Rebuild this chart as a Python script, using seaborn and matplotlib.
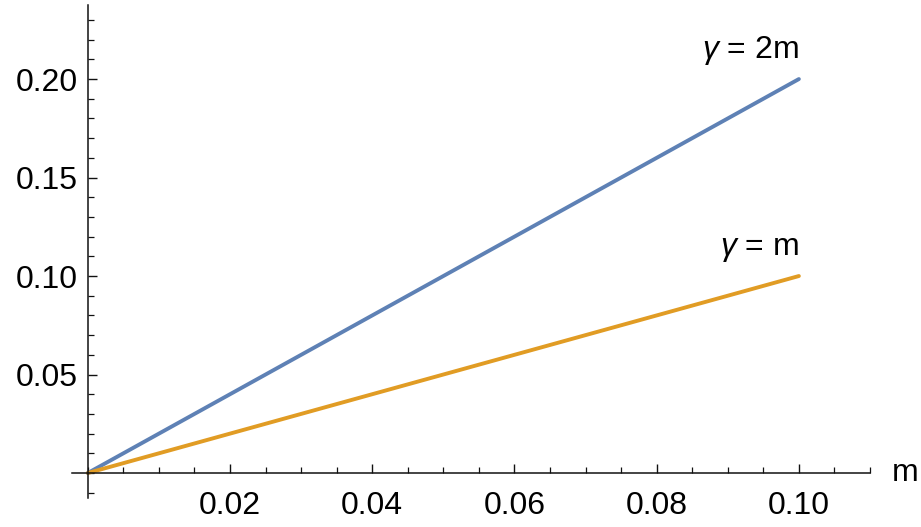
import numpy as np
import pandas as pd
import matplotlib
matplotlib.use("Agg")
import matplotlib.pyplot as plt
import seaborn as sns
from matplotlib.ticker import MultipleLocator, FixedLocator

# data
m_vals = [0.0, 0.1]
gamma_2m = [0.0, 0.2]
gamma_m = [0.0, 0.1]
x_ticks = [0.02, 0.04, 0.06, 0.08, 0.10]
y_ticks = [0.05, 0.10, 0.15, 0.20]

sns.set_style("white")
plt.rcParams['font.family'] = ['Liberation Sans', 'DejaVu Sans']
plt.rcParams['mathtext.fontset'] = 'custom'
plt.rcParams['mathtext.it'] = 'Liberation Sans:italic'
plt.rcParams['mathtext.rm'] = 'Liberation Sans'

df = pd.DataFrame({
    "m": m_vals * 2,
    "value": gamma_2m + gamma_m,
    "curve": ["2m"] * 2 + ["m"] * 2,
})

fig = plt.figure(figsize=(9.21, 5.27), dpi=100)
ax = fig.add_axes([0.078, 0.055, 0.8666, 0.9355])

sns.lineplot(data=df, x="m", y="value", hue="curve",
             palette=["#5E81B5", "#E19C24"], linewidth=2.8,
             legend=False, ax=ax)

ax.set_xlim(-0.00225, 0.110)
ax.set_ylim(-0.0127, 0.2376)

# Mathematica style axes through the origin
for s in ["top", "right"]:
    ax.spines[s].set_visible(False)
ax.spines["left"].set_position(("data", 0))
ax.spines["bottom"].set_position(("data", 0))
for s in ["left", "bottom"]:
    ax.spines[s].set_linewidth(1.1)
    ax.spines[s].set_color("#111111")

ax.xaxis.set_major_locator(FixedLocator(x_ticks))
ax.yaxis.set_major_locator(FixedLocator(y_ticks))
ax.xaxis.set_minor_locator(MultipleLocator(0.005))
ax.yaxis.set_minor_locator(MultipleLocator(0.01))
ax.set_xticklabels([f"{v:.2f}" for v in x_ticks])
ax.set_yticklabels([f"{v:.2f}" for v in y_ticks])

ax.tick_params(axis="both", which="both", bottom=True, left=True,
               top=False, right=False)
ax.tick_params(axis="both", which="major", direction="in", length=6.5,
               width=1.0, labelsize=23, color="#111111", labelcolor="black")
ax.tick_params(axis="both", which="minor", direction="in", length=4,
               width=0.9, color="#111111")
ax.tick_params(axis="x", which="major", pad=13)
ax.tick_params(axis="y", which="major", pad=7)
ax.set_xlabel("")
ax.set_ylabel("")

# curve labels and the axis label
ax.text(0.1, 0.206, r"$\gamma$ = 2m", ha="right", va="bottom", fontsize=23,
        color="black")
ax.text(0.1, 0.106, r"$\gamma$ = m", ha="right", va="bottom", fontsize=23,
        color="black")
fig.text(0.983, 0.102, "m", ha="center", va="center", fontsize=23,
         color="black")

fig.savefig("out.png", dpi=100)
